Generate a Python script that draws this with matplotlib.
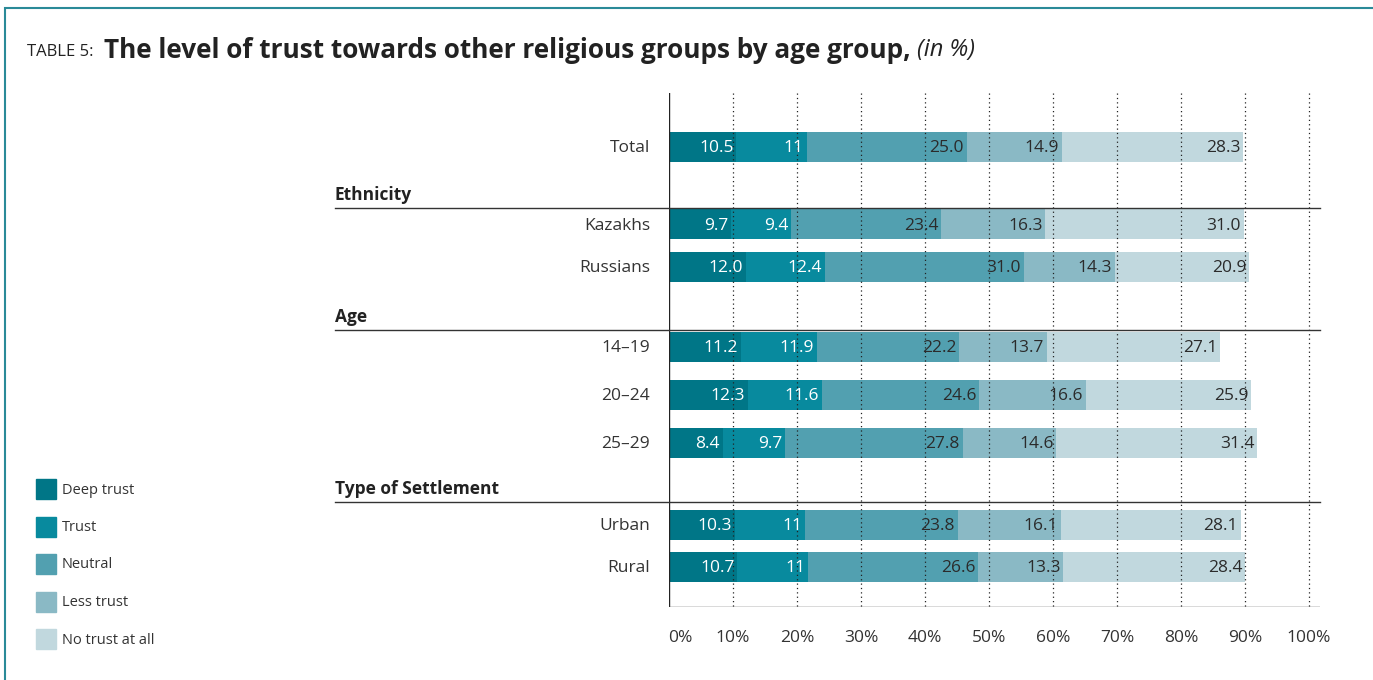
import matplotlib
matplotlib.use("Agg")
import matplotlib.pyplot as plt
import matplotlib.patches as mpatches
import numpy as np

# ── Data ──────────────────────────────────────────────────────────────────────
rows = ["Total", "Kazakhs", "Russians", "14–19", "20–24", "25–29", "Urban", "Rural"]
series = ["Deep trust", "Trust", "Neutral", "Less trust", "No trust at all"]
deep_trust = [10.5, 9.7, 12.0, 11.2, 12.3, 8.4, 10.3, 10.7]
trust      = [11.0, 9.4, 12.4, 11.9, 11.6, 9.7, 11.0, 11.0]
neutral    = [25.0, 23.4, 31.0, 22.2, 24.6, 27.8, 23.8, 26.6]
less_trust = [14.9, 16.3, 14.3, 13.7, 16.6, 14.6, 16.1, 13.3]
no_trust   = [28.3, 31.0, 20.9, 27.1, 25.9, 31.4, 28.1, 28.4]
value_text = [
    ["10.5", "9.7", "12.0", "11.2", "12.3", "8.4", "10.3", "10.7"],
    ["11", "9.4", "12.4", "11.9", "11.6", "9.7", "11", "11"],
    ["25.0", "23.4", "31.0", "22.2", "24.6", "27.8", "23.8", "26.6"],
    ["14.9", "16.3", "14.3", "13.7", "16.6", "14.6", "16.1", "13.3"],
    ["28.3", "31.0", "20.9", "27.1", "25.9", "31.4", "28.1", "28.4"],
]
groups = ["Ethnicity", "Age", "Type of Settlement"]
ticks = [0, 10, 20, 30, 40, 50, 60, 70, 80, 90, 100]

# ── Layout (pixel based) ──────────────────────────────────────────────────────
W, H = 1373, 680
FONT = ["Open Sans", "DejaVu Sans"]
COLORS = ["#007687", "#088A9E", "#52A0B0", "#8AB9C5", "#C1D8DE"]
TXT_COL = ["white", "white", "#2b2b2b", "#2b2b2b", "#2b2b2b"]
ROW_Y = [147, 224, 267, 347, 395, 443, 525, 567]
GROUP_Y = [208, 330, 502]
X0, X100, XR = 669, 1309, 1320
Y_TOP, Y_BOT = 93, 607
PX = (X100 - X0) / 100.0
DY = 1.5   # small text nudge down

fig = plt.figure(figsize=(W / 100, H / 100), dpi=100)
fig.patch.set_facecolor("white")
ax = fig.add_axes([X0 / W, 1 - Y_BOT / H, (XR - X0) / W, (Y_BOT - Y_TOP) / H])
ax.set_xlim(0, (XR - X0) / PX)
ax.set_ylim(Y_BOT, Y_TOP)
ax.axis("off")

# frame
fig.add_artist(mpatches.Rectangle((5 / W, -0.1), 1.2, 1 - 8 / H + 0.1,
               transform=fig.transFigure, fill=False, edgecolor="#2A8A98", lw=1.5))

# bars
data = [deep_trust, trust, neutral, less_trust, no_trust]
left = np.zeros(len(rows))
for k, vals in enumerate(data):
    vals = np.array(vals)
    ax.barh(ROW_Y, vals, left=left, height=30, color=COLORS[k], zorder=2, label=series[k])
    for i in range(len(rows)):
        ax.annotate(value_text[k][i], xy=(left[i] + vals[i], ROW_Y[i] + DY),
                    xytext=(-2, 0), textcoords="offset points",
                    ha="right", va="center", fontsize=12.5, family=FONT,
                    color=TXT_COL[k], zorder=4)
    left += vals

# grid
for t in ticks[1:]:
    ax.plot([t, t], [Y_TOP, Y_BOT], color="#222222", lw=0.9, ls=(0, (1, 2.5)), zorder=3)
ax.plot([0, 0], [Y_TOP, Y_BOT], color="#222222", lw=1.0, zorder=5)
ax.plot([0, ax.get_xlim()[1]], [Y_BOT, Y_BOT], color="#444444", lw=1.0, zorder=5)

# group lines + headers
xl = (335 - X0) / PX
for g, gy in zip(groups, GROUP_Y):
    ax.plot([xl, ax.get_xlim()[1]], [gy, gy], color="#333333", lw=1.0,
            clip_on=False, zorder=5)
    ax.text(xl, gy - 4, g, ha="left", va="bottom", fontsize=12.5,
            fontweight="bold", family=FONT, color="#222222")

# row labels
for r, ry in zip(rows, ROW_Y):
    ax.text((650 - X0) / PX, ry + DY, r, ha="right", va="center", fontsize=12.5,
            family=FONT, color="#333333")

# tick labels
for t in ticks:
    ax.text(t + (1.8 if t == 0 else 0), 638, f"{t}%", ha="center", va="center",
            fontsize=12.5, family=FONT, color="#333333", clip_on=False)

# legend
for k, s in enumerate(series):
    yc = 489 + k * 37.5
    fig.add_artist(mpatches.Rectangle((36 / W, 1 - (yc + 10) / H), 20 / W, 20 / H,
                   transform=fig.transFigure, color=COLORS[k]))
    fig.text(62 / W, 1 - (yc + 1) / H, s, ha="left", va="center", fontsize=10.5,
             family=FONT, color="#333333")

# title
fig.text(27 / W, 1 - 52 / H, "TABLE 5: ", ha="left", va="center",
         fontsize=12, family=FONT, color="#222222")
t1 = fig.text(104 / W, 1 - 50 / H, "The level of trust towards other religious groups by age group,",
              ha="left", va="center", fontsize=18.8, fontweight="bold", family=FONT,
              color="#222222")
fig.canvas.draw()
bb = t1.get_window_extent()
fig.text((bb.x1 + 6) / W, 1 - 50 / H, "(in %)", ha="left", va="center", fontsize=17,
         style="italic", family=FONT, color="#222222")

fig.savefig("out.png", dpi=100, facecolor="white")
